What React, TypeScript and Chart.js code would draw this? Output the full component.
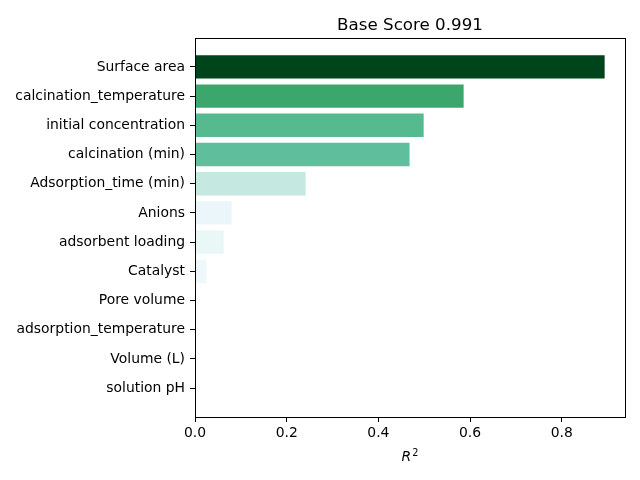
import React, { useEffect, useRef } from "react";
import { Chart, registerables } from "chart.js";

Chart.register(...registerables);

const categories: string[] = [
  "Surface area",
  "calcination_temperature",
  "initial concentration",
  "calcination (min)",
  "Adsorption_time (min)",
  "Anions",
  "adsorbent loading",
  "Catalyst",
  "Pore volume",
  "adsorption_temperature",
  "Volume (L)",
  "solution pH",
];

const r2Values: number[] = [0.8936, 0.586, 0.4988, 0.468, 0.2414, 0.08, 0.0626, 0.0248, 0, 0, 0, 0];

const barColors: string[] = [
  "#00441b",
  "#3ba76d",
  "#55ba8f",
  "#5fbf9c",
  "#c5e9e0",
  "#ebf6fa",
  "#e9f7f7",
  "#eef8fa",
  "#f7fcfd",
  "#f7fcfd",
  "#f7fcfd",
  "#f7fcfd",
];

const xTicks: number[] = [0, 0.2, 0.4, 0.6, 0.8];
const titleText = "Base Score 0.991";
const FONT = "'DejaVu Sans', sans-serif";

const decorPlugin = {
  id: "decor",
  afterDraw(chart: any) {
    const { ctx, chartArea } = chart;
    ctx.save();
    ctx.strokeStyle = "#000";
    ctx.lineWidth = 1;
    ctx.strokeRect(
      Math.round(chartArea.left) + 0.5,
      Math.round(chartArea.top) + 0.5,
      Math.round(chartArea.right - chartArea.left),
      Math.round(chartArea.bottom - chartArea.top)
    );
    const cx = (chartArea.left + chartArea.right) / 2;
    ctx.fillStyle = "#000";
    ctx.textAlign = "center";
    ctx.textBaseline = "alphabetic";
    ctx.font = `16.7px ${FONT}`;
    ctx.fillText(titleText, cx, chartArea.top - 8.3);
    // x label: italic R with superscript 2
    ctx.font = `italic 13.9px ${FONT}`;
    const rW = ctx.measureText("R").width;
    ctx.font = `9.7px ${FONT}`;
    const sW = ctx.measureText("2").width;
    const total = rW + sW + 1;
    const x0 = cx - total / 2;
    const base = 461;
    ctx.textAlign = "left";
    ctx.font = `italic 13.9px ${FONT}`;
    ctx.fillText("R", x0, base);
    ctx.font = `9.7px ${FONT}`;
    ctx.fillText("2", x0 + rW + 1, base - 5);
    ctx.restore();
  },
};

export default function App() {
  const canvasRef = useRef<HTMLCanvasElement | null>(null);

  useEffect(() => {
    if (!canvasRef.current) return;
    const chart = new Chart(canvasRef.current, {
      type: "bar",
      data: {
        datasets: [
          {
            data: r2Values.map((v, i) => ({ x: v, y: i })),
            backgroundColor: barColors,
            borderWidth: 0,
            categoryPercentage: 1,
            barPercentage: 0.8,
          },
        ],
      },
      options: {
        indexAxis: "y",
        animation: false,
        responsive: false,
        maintainAspectRatio: false,
        layout: { padding: { top: 38, right: 15, left: 0, bottom: 0 } },
        plugins: {
          legend: { display: false },
          title: { display: false },
          tooltip: { enabled: false },
        },
        scales: {
          x: {
            type: "linear",
            min: 0,
            max: 0.938,
            afterBuildTicks(scale: any) {
              scale.ticks = xTicks.map((v) => ({ value: v }));
            },
            afterFit(scale: any) {
              scale.height = 63;
            },
            grid: {
              drawOnChartArea: false,
              drawTicks: true,
              tickLength: 5,
              tickColor: "#000",
            },
            border: { display: true, color: "#000" },
            ticks: {
              color: "#000",
              font: { family: FONT, size: 13.9 },
              padding: 3,
              callback: (v: any) => Number(v).toFixed(1),
            },
          },
          y: {
            type: "linear",
            offset: false,
            min: -0.99,
            max: 11.99,
            reverse: true,
            afterBuildTicks(scale: any) {
              scale.ticks = categories.map((_, i) => ({ value: i }));
            },
            afterFit(scale: any) {
              scale.width = 195;
            },
            grid: {
              offset: false,
              drawOnChartArea: false,
              drawTicks: true,
              tickLength: 5,
              tickColor: "#000",
            },
            border: { display: true, color: "#000" },
            ticks: {
              color: "#000",
              font: { family: FONT, size: 13.9 },
              padding: 5,
              autoSkip: false,
              callback: (v: any) => categories[Math.round(Number(v))] ?? "",
            },
          },
        },
      },
      plugins: [decorPlugin],
    });
    return () => chart.destroy();
  }, []);

  return (
    <div style={{ position: "fixed", left: 0, top: 0, width: 640, height: 480, background: "#fff" }}>
      <canvas ref={canvasRef} width={640} height={480} style={{ width: 640, height: 480 }} />
    </div>
  );
}
